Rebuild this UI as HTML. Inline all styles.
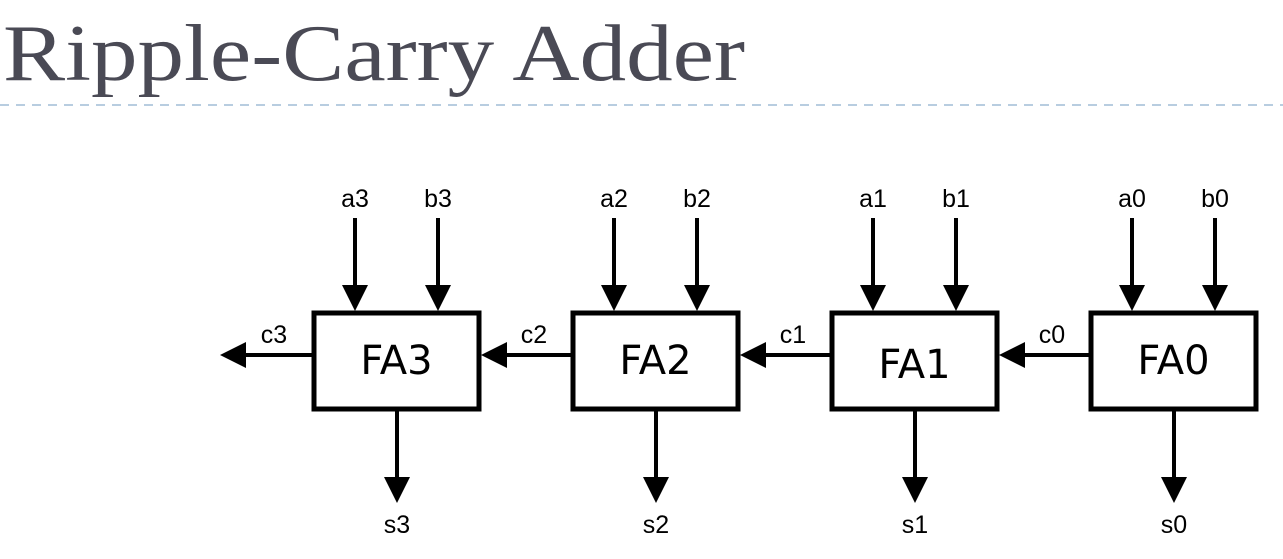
<!DOCTYPE html>
<html><head><meta charset="utf-8"><style>
html,body{margin:0;padding:0;background:#fff;width:1283px;height:559px;overflow:hidden}
svg{display:block}
</style></head><body>
<svg width="1283" height="559" viewBox="0 0 1283 559">
<text x="3" y="80" font-family="Liberation Serif, serif" font-size="80" fill="#4a4a55" textLength="742" lengthAdjust="spacingAndGlyphs">Ripple-Carry Adder</text>
<line x1="0" y1="105" x2="1283" y2="105" stroke="#b8cde0" stroke-width="2" stroke-dasharray="9,7"/>
<g id="diagram"></g>
</svg>
<script>
const stages=[3,2,1,0];
const boxLefts=[314,573,832,1091];
const g=document.getElementById('diagram');
const NS='http://www.w3.org/2000/svg';
function mk(tag,attrs,parent){const e=document.createElementNS(NS,tag);for(const k in attrs)e.setAttribute(k,attrs[k]);(parent||g).appendChild(e);return e;}
function arrowDown(x,y1,y2,name){
  const grp=mk('g',{});
  
  
  mk('line',{x1:x,y1:y1,x2:x,y2:y2-12,stroke:'#000','stroke-width':4},grp);
  mk('polygon',{points:`${x-13},${y2-26} ${x+13},${y2-26} ${x},${y2}`,fill:'#000'},grp);
}
function arrowLeft(x1,x2,y,name){
  const grp=mk('g',{});
  
  
  mk('line',{x1:x1,y1:y,x2:x2+12,y2:y,stroke:'#000','stroke-width':4},grp);
  mk('polygon',{points:`${x2+26},${y-13} ${x2+26},${y+13} ${x2},${y}`,fill:'#000'},grp);
}
function label(x,y,t,name){
  const e=mk('text',{x:x,y:y,'text-anchor':'middle','font-family':'Liberation Sans, sans-serif','font-size':25,fill:'#000'});
  e.textContent=t;
  
  
}
stages.forEach((s,i)=>{
  const L=boxLefts[i], W=165, T=313, H=96;
  const r=mk('rect',{x:L,y:T,width:W,height:H,fill:'#fff',stroke:'#000','stroke-width':5});
  
  
  const t=mk('text',{x:L+W/2,y:s===1?378:374,'text-anchor':'middle','font-family':'DejaVu Sans, sans-serif','font-size':40,fill:'#000'});
  t.textContent='FA'+s;
  
  
  label(L+41,207,'a'+s,'input-a'+s+'-label');
  label(L+124,207,'b'+s,'input-b'+s+'-label');
  arrowDown(L+41,218,311,'input-a'+s+'-arrow');
  arrowDown(L+124,218,311,'input-b'+s+'-arrow');
  arrowDown(L+83,411,503,'sum-s'+s+'-arrow');
  label(L+83,533,'s'+s,'sum-s'+s+'-label');
  const prevRight = i===0 ? 220 : boxLefts[i-1]+W+2;
  arrowLeft(L-2,prevRight,355,'carry-c'+s+'-arrow');
  label(i===0?274:L-39,343,'c'+s,'carry-c'+s+'-label');
});
</script>
</body></html>
